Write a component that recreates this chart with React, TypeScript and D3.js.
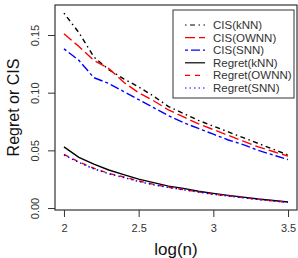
import { useEffect, useRef } from 'react';
import * as d3 from 'd3';

const logN = [2.0, 2.1, 2.2, 2.3, 2.4, 2.5, 2.6, 2.7, 2.8, 2.9, 3.0, 3.1, 3.2, 3.3, 3.4, 3.5];

const cisKnn = [0.169, 0.152, 0.131, 0.120, 0.112, 0.105, 0.097, 0.088, 0.082, 0.076, 0.071, 0.066, 0.061, 0.056, 0.051, 0.046];
const cisOwnn = [0.151, 0.140, 0.128, 0.121, 0.109, 0.100, 0.093, 0.085, 0.079, 0.073, 0.068, 0.063, 0.058, 0.053, 0.049, 0.045];
const cisSnn = [0.138, 0.128, 0.113, 0.108, 0.101, 0.094, 0.087, 0.080, 0.074, 0.069, 0.064, 0.059, 0.055, 0.050, 0.046, 0.042];
const regretKnn = [0.053, 0.044, 0.038, 0.033, 0.029, 0.025, 0.022, 0.019, 0.017, 0.0145, 0.0127, 0.011, 0.0095, 0.0078, 0.0065, 0.0052];
const regretOwnn = [0.0465, 0.040, 0.0345, 0.030, 0.027, 0.0235, 0.0205, 0.018, 0.016, 0.014, 0.012, 0.0105, 0.009, 0.0075, 0.0063, 0.005];
const regretSnn = [0.046, 0.0395, 0.034, 0.0297, 0.0265, 0.023, 0.0202, 0.0178, 0.0158, 0.0138, 0.0119, 0.0104, 0.0089, 0.0074, 0.0062, 0.0049];

const xTicks = [2, 2.5, 3, 3.5];
const yTicks = [0, 0.05, 0.1, 0.15];

const series = [
  { name: 'CIS(kNN)', values: cisKnn, color: '#000000', dash: '1.5,3.5,5,3.5' },
  { name: 'CIS(OWNN)', values: cisOwnn, color: '#FF0000', dash: '10,4' },
  { name: 'CIS(SNN)', values: cisSnn, color: '#0000FF', dash: '3,3,9,3' },
  { name: 'Regret(kNN)', values: regretKnn, color: '#000000', dash: null },
  { name: 'Regret(OWNN)', values: regretOwnn, color: '#FF0000', dash: '5,5' },
  { name: 'Regret(SNN)', values: regretSnn, color: '#0000FF', dash: '1.5,3' },
];

const W = 298;
const H = 258;
const FONT = 'Liberation Sans, Arial, Helvetica, sans-serif';
const INK = '#333';

const Chart = () => {
  const svgRef = useRef<SVGSVGElement | null>(null);

  useEffect(() => {
    const svg = d3.select(svgRef.current);
    svg.selectAll('*').remove();

    const left = 55, right = 297, top = 5, bottom = 210;

    const x = d3.scaleLinear().domain([1.94, 3.56]).range([left, right]);
    const y = d3.scaleLinear().domain([-0.0017, 0.176]).range([bottom, top]);

    // Lines
    series.forEach(s => {
      const line = d3
        .line<number>()
        .x((_, i) => x(logN[i]))
        .y(d => y(d));
      svg
        .append('path')
        .datum(s.values)
        .attr('d', line)
        .attr('fill', 'none')
        .attr('stroke', s.color)
        .attr('stroke-width', 1.4)
        .attr('stroke-dasharray', s.dash ?? null);
    });

    // Box
    svg
      .append('rect')
      .attr('x', left)
      .attr('y', top)
      .attr('width', right - left)
      .attr('height', bottom - top)
      .attr('fill', 'none')
      .attr('stroke', INK)
      .attr('stroke-width', 1.2);

    // X axis
    const xAxis = svg
      .append('g')
      .attr('transform', `translate(0,${bottom})`)
      .call(d3.axisBottom(x).tickValues(xTicks).tickSize(7).tickPadding(7).tickFormat(d => String(d)));
    xAxis.select('.domain').remove();
    xAxis.selectAll('.tick line').attr('stroke', INK);
    xAxis
      .selectAll('text')
      .style('font-family', FONT)
      .style('font-size', '11px')
      .style('fill', INK);

    // Y axis
    const yAxis = svg
      .append('g')
      .attr('transform', `translate(${left},0)`)
      .call(d3.axisLeft(y).tickValues(yTicks).tickSize(7).tickFormat(d3.format('.2f')));
    yAxis.select('.domain').remove();
    yAxis.selectAll('.tick line').attr('stroke', INK);
    yAxis
      .selectAll('text')
      .attr('transform', 'rotate(-90)')
      .attr('x', 0)
      .attr('y', -20)
      .attr('dy', '0.35em')
      .attr('text-anchor', 'middle')
      .style('font-family', FONT)
      .style('font-size', '11px')
      .style('fill', INK);

    // Axis titles
    svg
      .append('text')
      .attr('x', (left + right) / 2)
      .attr('y', 255)
      .attr('text-anchor', 'middle')
      .style('font-family', FONT)
      .style('font-size', '17px')
      .style('fill', '#111')
      .text('log(n)');

    svg
      .append('text')
      .attr('transform', `translate(19,${(top + bottom) / 2}) rotate(-90)`)
      .attr('text-anchor', 'middle')
      .style('font-family', FONT)
      .style('font-size', '16px')
      .style('fill', '#111')
      .text('Regret or CIS');

    // Legend
    const lg = svg.append('g');
    lg.append('rect')
      .attr('x', 173)
      .attr('y', 10)
      .attr('width', 121)
      .attr('height', 88)
      .attr('fill', 'white')
      .attr('stroke', INK)
      .attr('stroke-width', 1);

    series.forEach((s, i) => {
      const cy = 25 + i * 12.6;
      lg.append('line')
        .attr('x1', 185)
        .attr('x2', 205)
        .attr('y1', cy)
        .attr('y2', cy)
        .attr('stroke', s.color)
        .attr('stroke-width', 1.2)
        .attr('stroke-dasharray', s.dash ?? null);
      lg.append('text')
        .attr('x', 213)
        .attr('y', cy)
        .attr('dy', '0.35em')
        .style('font-family', FONT)
        .style('font-size', '11.5px')
        .style('fill', INK)
        .text(s.name);
    });
  }, []);

  return (
    <svg
      ref={svgRef}
      width={W}
      height={H}
      style={{ position: 'absolute', left: 0, top: 0, background: 'white' }}
    />
  );
};

export default function App() {
  return <Chart />;
}
